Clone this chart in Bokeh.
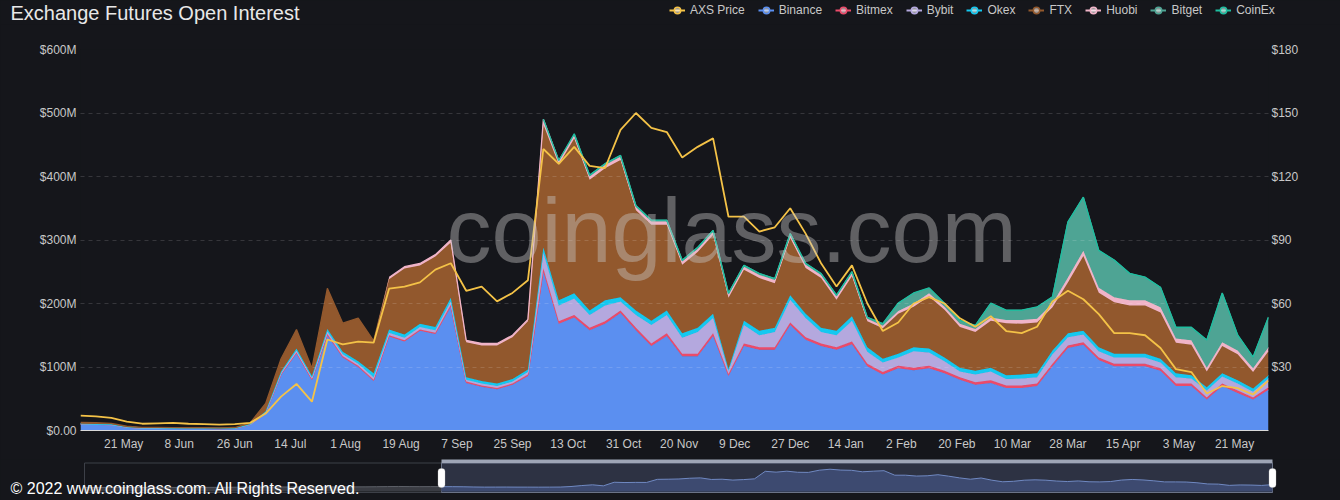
import numpy as np
from bokeh.plotting import figure
from bokeh.models import (Range1d, LinearAxis, FixedTicker, Legend, LegendItem,
                          Label, BoxAnnotation)
from bokeh.embed import file_html
from bokeh.resources import INLINE

# ---------------- data ----------------
STEP = 5            # categories (days) between samples
N_CAT = 385         # last category index on the main x axis
tick_first, tick_every = 14, 18
tick_labels = ["21 May", "8 Jun", "26 Jun", "14 Jul", "1 Aug", "19 Aug", "7 Sep",
               "25 Sep", "13 Oct", "31 Oct", "20 Nov", "9 Dec", "27 Dec", "14 Jan",
               "2 Feb", "20 Feb", "10 Mar", "28 Mar", "15 Apr", "3 May", "21 May"]

# open interest, $M
binance = [10, 9.5, 9, 5, 3.5, 3.5, 3.2, 3, 3, 2.8,
           3.2, 9, 28, 88, 122, 80, 150, 115, 100, 78,
           148, 140, 157, 152, 195, 75, 69, 65, 72, 86,
           250, 168, 178, 158, 168, 185, 158, 133, 149, 117,
           117, 149, 86, 133, 127, 127, 166, 143, 133, 127,
           136, 101, 88, 98, 95, 98, 90, 80, 72, 75,
           67, 67, 70, 101, 130, 135, 111, 101, 101, 101,
           94, 70, 70, 49, 70, 59, 49, 64]
bitmex = [0.2] * 11 + [0.3, 0.5, 1, 1, 1] + [2] * 8 + [3] + [2] * 5 + [5] + [4] * 11 + [3] \
         + [4] * 30 + [3, 4, 4, 3, 4]
bybit = [0.2] * 11 + [0.3, 1, 2, 3, 2, 4, 3, 3, 4, 4, 4, 4, 4, 5, 3, 3, 3, 3, 4,
         25, 25, 26, 20, 25, 14, 20, 29, 29, 25, 34, 24, 5, 29, 19, 24, 36, 30, 18, 19,
         33, 19, 15, 13, 26, 21, 15, 9, 12, 14, 10, 11, 10, 15, 13, 12, 10, 10, 10, 10,
         9, 10, 8, 11, 11, 11, 9, 14]
okex = [0.3] * 11 + [0.5, 1, 2, 3, 3, 4, 4, 4, 6, 5, 5, 5, 5, 6, 4, 4, 4, 4, 4,
        8, 8, 8, 7, 8, 7, 7, 7, 7, 7, 7, 7, 3, 7, 7, 7, 7, 7, 7, 7,
        7, 7] + [6] * 20 + [5] * 6
ftx = [2, 2, 1.5, 1, 0.8, 0.8, 0.7, 0.7, 0.7, 0.6,
       0.8, 2, 12, 20, 30, 12, 64, 45, 68, 51,
       79, 104, 92, 111, 87, 55, 56, 60, 66, 76,
       194, 214, 244, 206, 208, 216, 158, 151, 135, 108,
       119, 124, 112, 80, 83, 70, 90, 72, 78, 49,
       63, 41, 48, 63, 64, 82, 75, 64, 61, 74,
       82, 80, 80, 68, 80, 118, 86, 81, 76, 76,
       73, 48, 48, 25, 43, 41, 26, 38]
huobi = [0] * 20 + [3, 3, 3, 3, 4, 3, 3, 3, 3, 3,
                    8, 6] + [5] * 19 + [4, 4, 4] + [5] * 7 + [6, 6, 6] + [8] * 7 \
        + [7, 7, 6, 6, 6, 6, 6]
bitget = [0] * 32 + [2] * 20 + [3, 12, 16, 8, 5, 5, 5, 22, 15, 15, 18, 10,
                                87, 84, 58, 58, 42, 36, 31, 17, 20, 43, 77, 24, 17, 47]
coinex = [0] * 30 + [0.2] * 23 + [0.6] * 25

# AXS price, $
price = [7.0, 6.7, 6.0, 4.2, 3.2, 3.4, 3.6, 3.2, 3.0, 2.8,
         3.0, 3.6, 8.0, 16, 22, 13.6, 43, 40.7, 42, 41.5,
         67, 68, 70, 76, 79, 66, 68, 61, 65, 71,
         133, 126, 134, 125, 124, 142, 150, 143, 141, 129,
         134, 138, 101, 101, 94, 96, 105, 93, 79, 68,
         78, 60, 47, 51, 60, 63, 60, 53, 49, 54,
         47, 46, 49, 61, 66, 62, 55, 46, 46, 45,
         39, 29, 27.6, 17.5, 21, 20, 17, 23.6]
# earlier AXS price history shown only in the navigator
pre_price = [0.6, 0.6, 0.55, 0.5, 0.5, 0.55, 0.6, 0.6, 0.6, 0.65,
             0.7, 0.8, 1.2, 1.6, 2.5, 3.5, 3.2, 3.6, 4.0, 4.3,
             4.0, 3.8, 4.5, 5.0, 5.6, 5.2, 5.5, 6.5, 7.5, 8.5,
             7.5, 7.0, 7.2]

series = [("Binance", binance, "#5B8FF0"), ("Bitmex", bitmex, "#EB4B6A"),
          ("Bybit", bybit, "#B4A8DE"), ("Okex", okex, "#14C8F0"),
          ("FTX", ftx, "#92582D"), ("Huobi", huobi, "#F0B4C8"),
          ("Bitget", bitget, "#4EA494"), ("CoinEx", coinex, "#1EBEA0")]
PRICE_COLOR = "#F4C247"

# ---------------- layout constants ----------------
BG = "#15161b"
W = 1340
FONT = "Liberation Sans"
x = np.arange(len(binance)) * STEP

H0 = 24          # header strip (title + legend)
H1 = 435         # main chart, page y 24..459
H2 = 41          # navigator, page y 459..500
FR_L, FR_R, FR_T, FR_B = 80, 1268, 49, 430   # main plot frame in page pixels

def cat_at(px):
    return (px - FR_L) / ((FR_R - FR_L) / N_CAT)

def val_at(py):
    return (FR_B - py) / ((FR_B - FR_T) / 600)

# ---------------- header ----------------
p0 = figure(width=W, height=H0, x_range=Range1d(0, W), y_range=Range1d(0, H0),
            output_backend="svg", toolbar_location=None, title=None, min_border=0,
            background_fill_color=BG, border_fill_color=BG, outline_line_color=None,
            x_axis_location=None, y_axis_location=None)
p0.xgrid.visible = False
p0.ygrid.visible = False
p0.add_layout(Label(x=10, y=H0 - 12, text="Exchange  Futures Open Interest",
                    text_align="left", text_baseline="middle", text_font_size="20px",
                    text_color="#e8e8e8", text_font=FONT))
items = []
for name, col in [("AXS Price", PRICE_COLOR)] + [(n, c) for n, _, c in series]:
    # one point far outside the header's ranges, only so the legend has a glyph to draw
    r1 = p0.line(x=[-500, -400], y=[-500, -500], line_color=col, line_width=2)
    r2 = p0.scatter(x=[-500], y=[-500], marker="circle", size=7, line_color=col,
                    line_width=1.5, fill_color="#ffffff", fill_alpha=0.55)
    items.append(LegendItem(label=name, renderers=[r1, r2]))
legend = Legend(items=items, orientation="horizontal", location=(669, H0 - 18),
                glyph_width=16, glyph_height=16, label_standoff=5, spacing=13,
                padding=0, margin=0, border_line_alpha=0, background_fill_alpha=0,
                label_text_color="#c8c8c8", label_text_font_size="12px",
                label_text_font=FONT, label_height=16)
p0.add_layout(legend)

# ---------------- main chart ----------------
p = figure(width=W, height=H1, x_range=Range1d(0, N_CAT), y_range=Range1d(0, 600),
           output_backend="svg", toolbar_location=None, title=None,
           min_border_left=FR_L, min_border_right=W - FR_R,
           min_border_top=FR_T - H0, min_border_bottom=H0 + H1 - FR_B,
           background_fill_color=BG, border_fill_color=BG, outline_line_color=None)
p.extra_y_ranges = {"price": Range1d(0, 180)}

base = np.zeros(len(x))
for name, vals, col in series:
    v = np.array(vals, dtype=float)
    top = base + v
    p.varea(x=x, y1=base, y2=top, fill_color=col, fill_alpha=1)
    edge = np.where(v > 0, top, np.nan)
    p.line(x, edge, line_color=col, line_width=1.3)
    base = top

p.line(x, price, y_range_name="price", line_color=PRICE_COLOR, line_width=1.8)

ticks = [tick_first + tick_every * k for k in range(len(tick_labels))]
p.xaxis.ticker = FixedTicker(ticks=ticks)
p.xaxis.major_label_overrides = {t: l for t, l in zip(ticks, tick_labels)}
p.xaxis.axis_line_color = "#d9d9d9"
p.xaxis.major_label_standoff = 6

left_ticks = [0, 100, 200, 300, 400, 500, 600]
p.yaxis.ticker = FixedTicker(ticks=left_ticks)
p.yaxis.major_label_overrides = {t: ("$0.00" if t == 0 else f"${t}M") for t in left_ticks}
p.yaxis.axis_line_color = None
p.yaxis.major_label_standoff = 4

right_ticks = [30, 60, 90, 120, 150, 180]
ra = LinearAxis(y_range_name="price", ticker=FixedTicker(ticks=right_ticks),
                major_label_overrides={t: f"${t}" for t in right_ticks})
ra.axis_line_color = None
ra.major_label_standoff = 3
p.add_layout(ra, "right")

for ax in [p.xaxis[0], p.yaxis[0], ra]:
    ax.major_tick_line_color = None
    ax.minor_tick_line_color = None
    ax.major_tick_out = 0
    ax.major_tick_in = 0
    ax.minor_tick_out = 0
    ax.minor_tick_in = 0
    ax.major_label_text_color = "#c8c8c8"
    ax.major_label_text_font_size = "12px"
    ax.major_label_text_font = FONT

p.xgrid.visible = False
p.ygrid.grid_line_color = "#ffffff"
p.ygrid.grid_line_alpha = 0.14
p.ygrid.grid_line_dash = "4 4"
p.ygrid.level = "guide"

p.add_layout(Label(x=cat_at(731), y=val_at(230), text="coinglass.com",
                   text_align="center", text_baseline="alphabetic", text_font_size="90px",
                   text_color="#c8c8c8", text_alpha=0.42, text_font=FONT))

# ---------------- navigator ----------------
NAV_TOP = H0 + H1
NAV_L, NAV_R = 84, 1272      # page x of navigator box
SEL_L = 441                  # page x where the main window starts

def nav_x(px):
    return (px - SEL_L) / ((NAV_R - SEL_L) / N_CAT)

def nav_y(py):
    return (NAV_TOP + H2) - py

# price -> navigator pixels: $0 at page y 487, $156 at page y 468
k_nav = (487 - 468) / 156.0
nav_lo = -(NAV_TOP + H2 - 487) / k_nav
nav_hi = nav_lo + H2 / k_nav
NAV_BASE = nav_lo + (NAV_TOP + H2 - 491) / k_nav

p2 = figure(width=W, height=H2, x_range=Range1d(nav_x(0), nav_x(W)),
            y_range=Range1d(0, H2), output_backend="svg", toolbar_location=None,
            title=None, min_border=0, background_fill_color=BG, border_fill_color=BG,
            outline_line_color=None, x_axis_location=None, y_axis_location=None)
p2.extra_y_ranges = {"nav": Range1d(nav_lo, nav_hi)}
p2.xgrid.visible = False
p2.ygrid.visible = False

pre_x = np.arange(-len(pre_price), 0) * STEP
left_x = np.concatenate([pre_x, x[:1]])
left_p = list(pre_price) + price[:1]

p2.quad(left=nav_x(NAV_L), right=nav_x(NAV_R), bottom=nav_y(492), top=nav_y(462.5),
        fill_alpha=0, line_color="#3d4048", line_width=1)
p2.quad(left=0, right=N_CAT, bottom=nav_y(492), top=nav_y(462.5),
        fill_color="#8fa6e8", fill_alpha=0.2, line_color="#6b7387", line_width=1)
p2.varea(x=left_x, y1=NAV_BASE, y2=left_p, y_range_name="nav", fill_color="#3a3c43")
p2.line(left_x, left_p, y_range_name="nav", line_color="#5d6068", line_width=1)
p2.varea(x=x, y1=NAV_BASE, y2=price, y_range_name="nav", fill_color="#3d4a70")
p2.line(x, price, y_range_name="nav", line_color="#7089c2", line_width=1)
p2.quad(left=0, right=N_CAT, bottom=nav_y(462.5), top=nav_y(456),
        fill_color="#9ea5b6", line_color=None)
for hx in (SEL_L, NAV_R):
    p2.add_layout(BoxAnnotation(left=nav_x(hx - 3.5), right=nav_x(hx + 3.5),
                                bottom=nav_y(487), top=nav_y(468),
                                fill_color="#ffffff", fill_alpha=1,
                                line_color="#b8b8b8", line_width=1, border_radius=3))
p2.add_layout(Label(x=nav_x(10), y=nav_y(488),
                    text="\u00a9 2022 www.coinglass.com. All Rights Reserved.",
                    text_align="left", text_baseline="middle", text_font_size="16px",
                    text_color="#ffffff", text_font=FONT))

html = file_html([p0, p, p2], INLINE)
html = html.replace("</head>", "<style>html, body { background: #15161b; }</style></head>", 1)
open("out.html", "w").write(html)
